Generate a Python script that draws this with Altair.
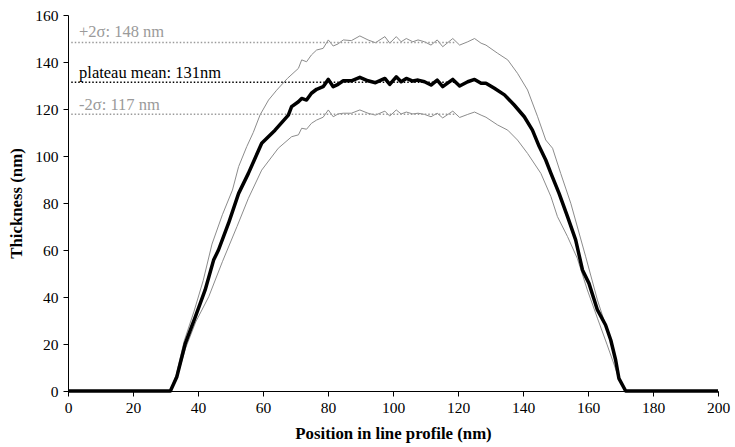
import altair as alt
import pandas as pd

# Mean thickness profile
mean_x = [0, 31.5, 33.5, 36.1, 39.2, 42.2, 44.8, 46.3, 49.4, 52.5, 55.5, 59.6, 63.7, 67.8, 68.8,
          70.9, 71.9, 73.4, 74.9, 76.5, 78.5, 80.1, 81.6, 83.1, 84.7, 87.2, 89.8, 92.3, 94.6, 97.5,
          99.0, 101.0, 102.5, 104.1, 106.1, 107.7, 109.7, 111.7, 113.6, 115.3, 118.4, 120.5, 123.0,
          125.1, 127.1, 128.6, 131.2, 134.3, 137.3, 140.4, 142.9, 145.0, 147.0, 148.6, 151.1, 153.7,
          156.2, 158.3, 160.3, 162.9, 165.4, 167.0, 168.5, 169.5, 171.6, 200]
mean_y = [0, 0, 6.1, 20.3, 31.6, 43.0, 55.7, 60.0, 71.4, 84.1, 92.6, 105.4, 111.0, 117.4, 121.0,
          123.1, 124.5, 123.8, 126.7, 128.4, 129.5, 132.6, 129.5, 130.5, 132.0, 132.0, 133.5, 132.0,
          131.2, 133.0, 130.5, 133.7, 131.6, 133.0, 131.9, 132.3, 131.6, 130.2, 132.3, 129.5, 132.6,
          129.8, 131.6, 132.6, 131.0, 131.0, 128.8, 126.0, 121.7, 116.7, 111.0, 104.0, 98.3, 92.6,
          84.1, 74.2, 64.3, 51.5, 45.8, 34.5, 28.1, 21.7, 13.2, 5.4, 0, 0]

plateau_x = [70.9, 71.9, 73.4, 74.9, 76.5, 78.5, 80.1, 81.6, 83.1, 84.7, 87.2, 89.8, 92.3, 94.6, 97.5,
             99.0, 101.0, 102.5, 104.1, 106.1, 107.7, 109.7, 111.7, 113.6, 115.3, 118.4, 120.5, 123.0,
             125.1, 127.1, 128.6]

# +2 sigma profile
upper_x = [0, 31.5, 33.3, 35.8, 38.8, 41.6, 44.3, 47.5, 50.6, 52.5, 55.0, 57.0, 59.1, 61.7, 64.2, 67.5] + plateau_x + \
          [132.2, 135.3, 138.3, 141.4, 144.5, 147.0, 149.1, 151.6, 154.7, 159.3, 162.9, 165.9, 168.4, 169.6, 171.6, 200]
upper_y = [0, 0, 7.0, 21.5, 34.0, 47.0, 62.5, 75.0, 85.5, 95.5, 104.0, 110.0, 117.5, 123.8, 128.0, 133.0,
           137.3, 140.9, 140.1, 143.0, 145.1, 145.8, 149.4, 146.8, 147.7, 149.4, 149.1, 151.1, 149.4, 148.2,
           150.8, 148.0, 150.8, 148.6, 150.0, 148.6, 149.4, 148.6, 147.2, 149.4, 146.5, 150.0, 147.2, 148.6,
           150.0, 148.0, 147.2,
           143.7, 140.9, 135.2, 128.1, 116.7, 106.8, 103.3, 92.6, 79.9, 57.1, 38.7, 26.0, 14.0, 5.5, 0, 0]

# -2 sigma profile
lower_x = [0, 31.5, 33.5, 36.2, 39.3, 43.3, 47.5, 52.0, 55.5, 59.6, 64.7, 68.8] + plateau_x + \
          [132.2, 135.3, 138.3, 141.4, 145.5, 148.6, 150.6, 153.7, 156.7, 159.8, 162.9, 165.9, 168.1, 169.6, 171.6, 200]
lower_y = [0, 0, 5.5, 18.3, 29.4, 40.1, 55.0, 70.0, 82.0, 94.0, 103.3, 108.2,
           109.0, 111.8, 111.4, 113.9, 115.3, 116.5, 119.6, 116.7, 117.9, 118.2, 118.2, 119.6, 118.2, 117.4,
           119.1, 117.0, 119.6, 117.9, 118.7, 117.9, 118.2, 117.7, 116.7, 118.2, 116.2, 119.1, 116.4, 117.7,
           118.7, 117.4, 116.5,
           113.2, 111.0, 106.8, 101.1, 92.6, 82.7, 74.2, 65.7, 56.5, 43.0, 31.0, 19.6, 11.0, 4.7, 0, 0]

# Reference levels and labels
ref_names = ["+2σ", "mean", "-2σ"]
ref_levels = [148.3, 131.4, 117.8]
ref_start = [1, 1, 1]
ref_end = [119, 119, 119]
label_texts = ["+2σ: 148 nm", "plateau mean: 131nm", "-2σ: 117 nm"]
label_y = [150.5, 133.1, 119.6]
label_x = [3.4, 3.4, 3.4]

GREY = "#9a9a9a"
FONT = "Liberation Serif"

mean_df = pd.DataFrame({"x": mean_x, "y": mean_y})
upper_df = pd.DataFrame({"x": upper_x, "y": upper_y})
lower_df = pd.DataFrame({"x": lower_x, "y": lower_y})
ref_df = pd.DataFrame({"name": ref_names, "y": ref_levels, "x": ref_start, "x2": ref_end,
                       "color": [GREY, "black", GREY]})
lab_df = pd.DataFrame({"t": label_texts, "x": label_x, "y": label_y, "color": [GREY, "black", GREY]})

xscale = alt.Scale(domain=[0, 200], nice=False, zero=False)
yscale = alt.Scale(domain=[0, 160], nice=False)

xaxis = alt.Axis(values=list(range(0, 201, 20)), title="Position in line profile (nm)", grid=False,
                 tickSize=5, labelPadding=4, titlePadding=10, labelFlush=False)
yaxis = alt.Axis(values=list(range(0, 161, 20)), title="Thickness (nm)", grid=False,
                 tickSize=5, labelPadding=5, titlePadding=9, labelFlush=False)

X = alt.X("x:Q", scale=xscale, axis=xaxis)
Y = alt.Y("y:Q", scale=yscale, axis=yaxis)


def profile(df, color, width):
    return alt.Chart(df).mark_line(color=color, strokeWidth=width, strokeJoin="round").encode(
        x=X, y=Y, order="x:Q",
    )


refs = alt.Chart(ref_df).mark_rule(strokeWidth=1.5, strokeDash=[1.5, 2]).encode(
    x=X, x2="x2:Q", y=Y,
    color=alt.Color("color:N", scale=None),
)

labels = alt.Chart(lab_df).mark_text(align="left", baseline="alphabetic", font=FONT, fontSize=16.5).encode(
    x=X, y=Y, text="t:N",
    color=alt.Color("color:N", scale=None),
)

chart = alt.layer(
    profile(upper_df, "#8c8c8c", 1),
    profile(lower_df, "#8c8c8c", 1),
    refs,
    labels,
    profile(mean_df, "black", 3.5),
).properties(
    width=650, height=376,
    padding={"left": 68, "top": 15, "right": 17, "bottom": 56},
    autosize="none",
).configure_view(stroke=None).configure_axis(
    labelFont=FONT, titleFont=FONT, labelFontSize=15.5, titleFontSize=16.8,
    labelColor="black", titleColor="black", domainColor="black", tickColor="black",
    titleFontWeight="bold", domainWidth=1, tickWidth=1,
)

chart.save("out.html", embed_options={"renderer": "svg", "actions": False})
